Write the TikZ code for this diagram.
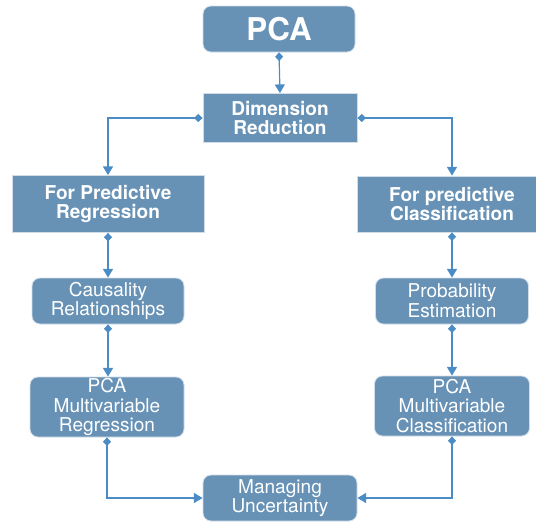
\documentclass[tikz,border=0pt]{standalone}
\usepackage{fontspec}
\setmainfont{TeX Gyre Heros}
\usetikzlibrary{arrows.meta}
\definecolor{boxblue}{HTML}{6792B6}
\definecolor{lineblue}{HTML}{4C8CC5}

\begin{document}
\begin{tikzpicture}[x=0.75pt,y=-0.75pt,
  blk/.style={fill=boxblue,draw=white!70!boxblue,line width=0.6pt,text=white,
    align=center,inner sep=0pt,font=\fontsize{14.3}{14.8}\selectfont},
  rblk/.style={blk,rounded corners=6pt},
  head/.style={blk,font=\fontsize{14.3}{14.8}\selectfont\bfseries},
  link/.style={lineblue,line width=0.9pt,
    {Diamond[length=6.5pt,width=6pt]}-{Triangle[length=6.5pt,width=7.5pt]}}]
\useasboundingbox (0,0) rectangle (536,522);
% top of the tree
\node[rblk,minimum width=114pt,minimum height=34.5pt,
  font=\fontsize{23.5}{25}\selectfont\bfseries] (pca) at (279,29) {PCA};
\node[head,minimum width=115.5pt,minimum height=36.75pt] (dr) at (280,118) {Dimension\\Reduction};
% two branches
\node[head,minimum width=144pt,minimum height=42.75pt] (fpr) at (108,204) {For Predictive\\Regression};
\node[head,minimum width=142.5pt,minimum height=42pt] (fpc) at (452,204) {For predictive\\Classification};
\node[rblk,minimum width=114pt,minimum height=34.5pt] (cr) at (108,301) {Causality\\Relationships};
\node[rblk,minimum width=115.5pt,minimum height=45pt] (mr) at (107,407) {PCA\\Multivariable\\Regression};
\node[rblk,minimum width=114.75pt,minimum height=34.5pt] (pe) at (452,301) {Probability\\Estimation};
\node[rblk,minimum width=116.25pt,minimum height=45pt] (mc) at (452,406) {PCA\\Multivariable\\Classification};
% where they meet
\node[rblk,minimum width=115.5pt,minimum height=34.5pt] (mu) at (280,498) {Managing\\Uncertainty};

\draw[link] (pca.south) -- (dr.north);
\draw[link] (dr.west) -| (fpr.north);
\draw[link] (dr.east) -| (fpc.north);
\draw[link] (fpr.south) -- (fpr.south |- cr.north);
\draw[link] (cr.south) -- (cr.south |- mr.north);
\draw[link] (fpc.south) -- (fpc.south |- pe.north);
\draw[link] (pe.south) -- (pe.south |- mc.north);
\draw[link] (mr.south) |- (mu.west);
\draw[link] (mc.south) |- (mu.east);
\end{tikzpicture}
\end{document}
